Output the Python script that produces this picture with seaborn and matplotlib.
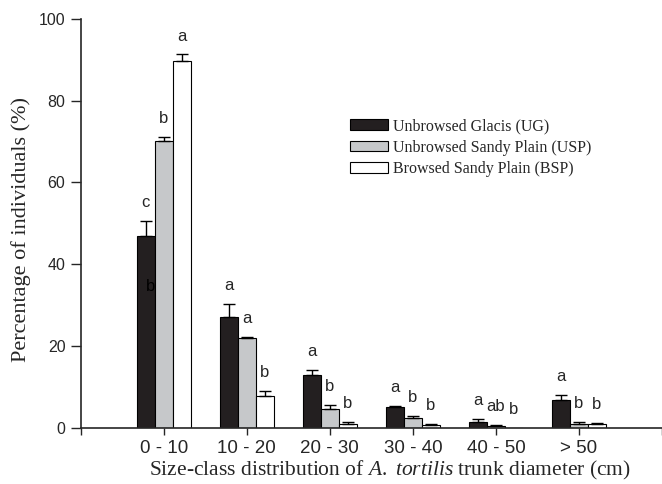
import numpy as np
import pandas as pd
import matplotlib
matplotlib.use("Agg")
import matplotlib.pyplot as plt
import seaborn as sns

# 직경 계급별 개체 비율 (%)
classes = ["0 - 10", "10 - 20", "20 - 30", "30 - 40", "40 - 50", "> 50"]
groups = ["Unbrowsed Glacis (UG)", "Unbrowsed Sandy Plain (USP)", "Browsed Sandy Plain (BSP)"]

ug = [46.9, 27.1, 12.9, 5.05, 1.4, 6.8]
usp = [70.2, 21.9, 4.6, 2.4, 0.5, 1.05]
bsp = [89.8, 7.8, 1.0, 0.6, 0.0, 0.9]

ug_err = [3.8, 3.1, 1.3, 0.2, 0.8, 1.3]
usp_err = [1.0, 0.3, 0.9, 0.4, 0.3, 0.35]
bsp_err = [1.5, 1.3, 0.5, 0.4, 0.0, 0.3]

ug_letters = ["c", "a", "a", "a", "a", "a"]
usp_letters = ["b", "a", "b", "b", "ab", "b"]
bsp_letters = ["a", "b", "b", "b", "b", "b"]

# 원본 그림에 검은 막대 안에 찍혀 있는 "b"
stray_label = "b"
stray_class = "0 - 10"
stray_value = 34.5

df = pd.DataFrame({
    "cls": classes * 3,
    "grp": [g for g in groups for _ in classes],
    "pct": ug + usp + bsp,
})
errs = [ug_err, usp_err, bsp_err]
vals = [ug, usp, bsp]
letters = [ug_letters, usp_letters, bsp_letters]

sns.set_style("ticks")
plt.rcParams["font.family"] = ["Liberation Sans", "DejaVu Sans"]
plt.rcParams["mathtext.fontset"] = "custom"
plt.rcParams["mathtext.rm"] = "Liberation Serif"
plt.rcParams["mathtext.it"] = "Liberation Serif:italic"

fig = plt.figure(figsize=(6.62, 4.84), dpi=100)
ax = fig.add_axes([0.122, 0.116, 0.878, 0.845])

colors = ["#231f20", "#c6c8ca", "#ffffff"]
width = 0.65
sns.barplot(data=df, x="cls", y="pct", hue="grp", order=classes, hue_order=groups,
            palette=colors, width=width, errorbar=None, edgecolor="black",
            linewidth=0.8, saturation=1, ax=ax)

bw = width / 3
xs = np.arange(len(classes))
for i in range(3):
    x = xs + (i - 1) * bw
    v = np.array(vals[i])
    e = np.array(errs[i])
    m = v > 0
    ax.errorbar(x[m], v[m], yerr=[np.zeros(m.sum()), e[m]], fmt="none",
                ecolor="black", elinewidth=1, capsize=4.5, capthick=1)
    for xi, vi, ei, lab in zip(x, v, e, letters[i]):
        ax.text(xi, vi + ei + 3.4, lab, ha="center", va="baseline", fontsize=12)

ax.text(classes.index(stray_class) - bw + 0.06, stray_value, stray_label,
        ha="center", va="center", fontsize=12, color="black")

ax.set_xlim(-1, len(classes))
ax.set_xticks(np.arange(-1, len(classes) + 1))
ax.set_xticklabels([""] + classes + [""], fontsize=13.5)
ax.set_ylim(0, 100)
ax.set_yticks([0, 20, 40, 60, 80, 100])
ax.tick_params(axis="y", labelsize=11.5, length=7, width=1, pad=4)
ax.tick_params(axis="x", length=5, width=1, pad=4)
for s in ["left", "bottom"]:
    ax.spines[s].set_linewidth(1.2)
sns.despine(ax=ax)

ax.set_ylabel("Percentage of individuals (%)", family="Liberation Serif", fontsize=16)
ax.yaxis.set_label_coords(-0.086, 0.484)
ax.set_xlabel(r"Size-class distribution of $\it{A.}$ $\it{tortilis}$ trunk diameter (cm)",
              family="Liberation Serif", fontsize=15.5)
ax.xaxis.set_label_coords(0.532, -0.075)

handles, labels = ax.get_legend_handles_labels()
ax.legend(handles, labels, loc="upper left", bbox_to_anchor=(350 / 662, 1 - 118 / 484),
          bbox_transform=fig.transFigure, frameon=False, borderpad=0, borderaxespad=0,
          prop={"family": "Liberation Serif", "size": 11.5}, handlelength=2.4,
          handleheight=0.67, handletextpad=0.31, labelspacing=0.35)

fig.savefig("out.png", dpi=100)
